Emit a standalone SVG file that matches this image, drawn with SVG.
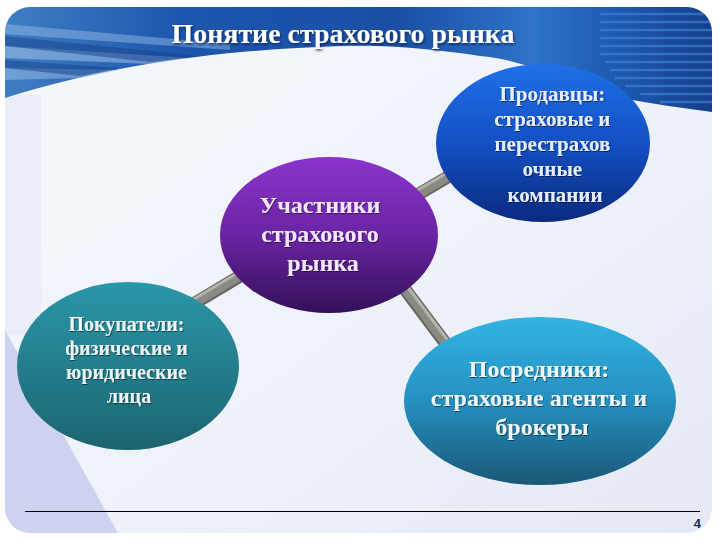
<svg xmlns="http://www.w3.org/2000/svg" width="720" height="540" viewBox="0 0 720 540">
<defs>
  <clipPath id="slide"><rect x="5" y="7" width="707" height="526" rx="25"/></clipPath>
  <linearGradient id="bodyBg" x1="0" y1="0" x2="1" y2="1">
    <stop offset="0" stop-color="#f6f8fc"/>
    <stop offset="0.6" stop-color="#eef1f9"/>
    <stop offset="1" stop-color="#e4e9f5"/>
  </linearGradient>
  <linearGradient id="hdr" x1="0" y1="0" x2="1" y2="0">
    <stop offset="0" stop-color="#3f7ec4"/>
    <stop offset="0.25" stop-color="#1d56ad"/>
    <stop offset="0.55" stop-color="#1a4fa6"/>
    <stop offset="0.75" stop-color="#2e74c8"/>
    <stop offset="0.85" stop-color="#1e5cb4"/>
    <stop offset="1" stop-color="#163f8c"/>
  </linearGradient>
  <linearGradient id="gPurple" x1="0" y1="0" x2="0" y2="1">
    <stop offset="0" stop-color="#8b34cc"/>
    <stop offset="0.5" stop-color="#6a24a4"/>
    <stop offset="1" stop-color="#33105a"/>
  </linearGradient>
  <linearGradient id="gBlue" x1="0" y1="0" x2="0" y2="1">
    <stop offset="0" stop-color="#1f70e8"/>
    <stop offset="0.5" stop-color="#1350c4"/>
    <stop offset="1" stop-color="#0a2a80"/>
  </linearGradient>
  <linearGradient id="gTeal" x1="0" y1="0" x2="0" y2="1">
    <stop offset="0" stop-color="#2b97a8"/>
    <stop offset="1" stop-color="#1b6470"/>
  </linearGradient>
  <linearGradient id="gSky" x1="0" y1="0" x2="0" y2="1">
    <stop offset="0" stop-color="#32b4e4"/>
    <stop offset="0.5" stop-color="#2590c0"/>
    <stop offset="1" stop-color="#1a5878"/>
  </linearGradient>
  <filter id="tsh" x="-10%" y="-20%" width="120%" height="150%">
    <feDropShadow dx="1" dy="1.5" stdDeviation="0.8" flood-color="#0a1a40" flood-opacity="0.8"/>
  </filter>
  <filter id="nsh" x="-10%" y="-20%" width="120%" height="150%">
    <feDropShadow dx="0.8" dy="1" stdDeviation="0.6" flood-color="#000" flood-opacity="0.5"/>
  </filter>
  <style>
    .ttl { font-family: "Liberation Serif", "Times New Roman", serif; font-weight: bold; font-size: 28px; fill: #ffffff; }
    .nt { font-family: "Liberation Serif", "Times New Roman", serif; font-weight: bold; text-anchor: middle; }
    .rodD { stroke: #66655e; stroke-width: 13; stroke-linecap: butt; }
    .rodM { stroke: #8a8982; stroke-width: 9; stroke-linecap: butt; }
    .rodL { stroke: #b5b4ac; stroke-width: 3; stroke-linecap: butt; }
  </style>
</defs>

<rect width="720" height="540" fill="#ffffff"/>
<g clip-path="url(#slide)">
  <rect x="5" y="7" width="707" height="526" fill="url(#bodyBg)"/>
  <rect x="5" y="95" width="36" height="240" fill="#eaeef8"/>
  <polygon points="5,330 118,533 5,533" fill="#cdd3ee"/>
  <!-- header -->
  <path d="M5,7 L712,7 L712,112 C 680,108 650,103 620,98 C 570,85 530,60 480,56 C 420,47 380,45 340,46 C 230,50 120,62 5,98 Z" fill="url(#hdr)"/>
  <g opacity="0.45">
    <polygon points="5,24 230,44 230,50 5,34" fill="#9cc0e8"/>
    <polygon points="5,46 190,58 150,64 5,58" fill="#b8d4f0"/>
    <polygon points="5,68 120,70 80,78 5,80" fill="#a8c8ec"/>
  </g>
  <polygon points="5,36 200,56 150,62 5,46" fill="#153f88" opacity="0.5"/>
  <polygon points="5,60 120,68 80,76 5,68" fill="#153f88" opacity="0.5"/>
  <g stroke="#3f80d0" stroke-width="2.5" opacity="0.7">
    <line x1="600" y1="14" x2="712" y2="14"/>
    <line x1="600" y1="22" x2="712" y2="22"/>
    <line x1="600" y1="30" x2="712" y2="30"/>
    <line x1="600" y1="38" x2="712" y2="38"/>
    <line x1="600" y1="46" x2="712" y2="46"/>
    <line x1="600" y1="54" x2="712" y2="54"/>
    <line x1="605" y1="62" x2="712" y2="62"/>
    <line x1="610" y1="70" x2="712" y2="70"/>
    <line x1="615" y1="78" x2="712" y2="78"/>
    <line x1="625" y1="86" x2="712" y2="86"/>
    <line x1="640" y1="94" x2="712" y2="94"/>
    <line x1="660" y1="102" x2="712" y2="102"/>
  </g>
</g>

<text class="ttl" x="343" y="43" text-anchor="middle" textLength="343" lengthAdjust="spacingAndGlyphs" filter="url(#tsh)">Понятие страхового рынка</text>

<g id="connectors">
  <g>
    <line class="rodD" x1="180" y1="312" x2="262" y2="263"/>
    <line class="rodM" x1="180" y1="312" x2="262" y2="263"/>
    <line class="rodL" x1="179" y1="308" x2="261" y2="259"/>
  </g>
  <g>
    <line class="rodD" x1="400" y1="205" x2="470" y2="164"/>
    <line class="rodM" x1="400" y1="205" x2="470" y2="164"/>
    <line class="rodL" x1="399" y1="201" x2="469" y2="160"/>
  </g>
  <g>
    <line class="rodD" x1="392" y1="272" x2="455" y2="356"/>
    <line class="rodM" x1="392" y1="272" x2="455" y2="356"/>
    <line class="rodL" x1="395" y1="270" x2="458" y2="354"/>
  </g>
</g>

<g id="node-center">
  <ellipse cx="329" cy="235" rx="109" ry="78" fill="url(#gPurple)"/>
  <text class="nt" font-size="24" fill="#f2e8fa" filter="url(#nsh)">
    <tspan x="323" y="213">Участники</tspan>
    <tspan x="323" y="242">страхового</tspan>
    <tspan x="323" y="271">рынка</tspan>
  </text>
</g>

<g id="node-sellers">
  <ellipse cx="543" cy="143" rx="107" ry="79" fill="url(#gBlue)"/>
  <text class="nt" font-size="21" fill="#e6eefc" filter="url(#nsh)">
    <tspan x="555" y="101">Продавцы:</tspan>
    <tspan x="555" y="126">страховые и</tspan>
    <tspan x="555" y="151">перестрахов</tspan>
    <tspan x="555" y="176">очные</tspan>
    <tspan x="555" y="202">компании</tspan>
  </text>
</g>

<g id="node-buyers">
  <ellipse cx="128" cy="366" rx="111" ry="84" fill="url(#gTeal)"/>
  <text class="nt" font-size="20" fill="#eef4f6" filter="url(#nsh)">
    <tspan x="129" y="331">Покупатели:</tspan>
    <tspan x="129" y="355">физические и</tspan>
    <tspan x="129" y="379">юридические</tspan>
    <tspan x="129" y="403">лица</tspan>
  </text>
</g>

<g id="node-brokers">
  <ellipse cx="540" cy="401" rx="136" ry="84" fill="url(#gSky)"/>
  <text class="nt" font-size="24" fill="#eef6fa" filter="url(#nsh)">
    <tspan x="542" y="377">Посредники:</tspan>
    <tspan x="542" y="406">страховые агенты и</tspan>
    <tspan x="542" y="435">брокеры</tspan>
  </text>
</g>

<line x1="25" y1="511.5" x2="700" y2="511.5" stroke="#000" stroke-width="1"/>
<text x="701" y="528" text-anchor="end" font-family="Liberation Sans, Arial, sans-serif" font-weight="bold" font-size="13" fill="#1a2a5a">4</text>
</svg>
